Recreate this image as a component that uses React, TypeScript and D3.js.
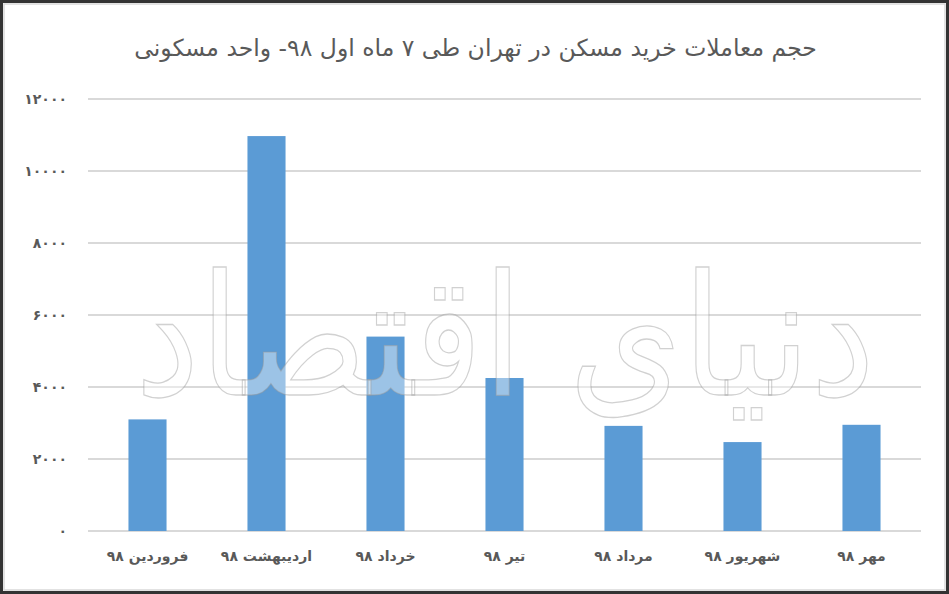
import React from 'react'
import * as d3 from 'd3'

const months = ['فروردین ۹۸', 'اردیبهشت ۹۸', 'خرداد ۹۸', 'تیر ۹۸', 'مرداد ۹۸', 'شهریور ۹۸', 'مهر ۹۸']
const values = [3100, 10970, 5400, 4250, 2920, 2470, 2950]
const yTicks = [0, 2000, 4000, 6000, 8000, 10000, 12000]
const title = 'حجم معاملات خرید مسکن در تهران طی ۷ ماه اول ۹۸- واحد مسکونی'
const watermark = 'دنیای اقتصاد'

const W = 949
const H = 594
const FONT = '"DejaVu Sans", sans-serif'

const toPersian = (n: number) =>
  String(n).replace(/[0-9]/g, (c) => '۰۱۲۳۴۵۶۷۸۹'[+c])

const App = () => {
  const x = d3.scaleBand<string>().domain(months).range([88, 921]).paddingInner(0.68).paddingOuter(0.34)
  const y = d3.scaleLinear().domain([0, 12000]).range([531, 99])

  return (
    <svg width={W} height={H} style={{ position: 'absolute', left: 0, top: 0 }}>
      <rect x={0} y={0} width={W} height={H} fill="#fff" />

      <text x={W / 2 + 1} y={56} textAnchor="middle" direction="rtl" fontFamily={FONT} fontSize={23.5} fill="#595959">
        {title}
      </text>

      {yTicks.map((t) => (
        <g key={t}>
          <line x1={88} x2={921} y1={y(t)} y2={y(t)} stroke="#d9d9d9" strokeWidth={2} />
          <text x={67} y={y(t)} dy="0.35em" textAnchor="end" fontFamily={FONT} fontSize={14} fontWeight="bold"
            letterSpacing={1.5} fill="#595959">
            {toPersian(t)}
          </text>
        </g>
      ))}

      {months.map((m, i) => (
        <rect key={m} x={x(m)} y={y(values[i])} width={x.bandwidth()} height={y(0) - y(values[i])} fill="#5b9bd5" />
      ))}

      {months.map((m) => (
        <text key={m} x={(x(m) ?? 0) + x.bandwidth() / 2} y={561} textAnchor="middle" direction="rtl" fontFamily={FONT} fontSize={14} fontWeight="bold" fill="#595959">
          {m}
        </text>
      ))}

      {/* watermark */}
      <g transform="translate(505,395) scale(1,1.3)">
        <text x={0} y={0} textAnchor="middle" direction="rtl" fontFamily={FONT} fontSize={130}
          textLength={740} lengthAdjust="spacingAndGlyphs"
          fill="#fff" fillOpacity={0.4} stroke="#999" strokeOpacity={0.45} strokeWidth={1}>
          {watermark}
        </text>
      </g>

      <rect x={4} y={4} width={W - 8} height={H - 8} fill="none" stroke="#d9d9d9" strokeWidth={1.5} />
      <rect x={1.5} y={1.5} width={W - 3} height={H - 3} fill="none" stroke="#333" strokeWidth={3} />
    </svg>
  )
}

export default App
